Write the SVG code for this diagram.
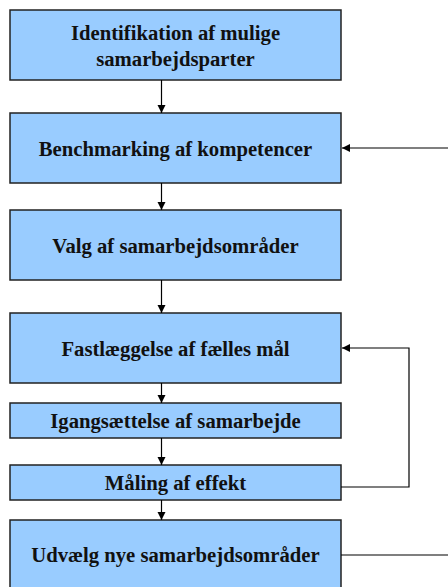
<svg xmlns="http://www.w3.org/2000/svg" width="448" height="587" viewBox="0 0 448 587">
<defs>
<marker id="ah" markerWidth="10" markerHeight="10" refX="9" refY="5" orient="auto" markerUnits="userSpaceOnUse">
<path d="M1,1 L9,5 L1,9 Z" fill="#000"/>
</marker>
<style>
.box{fill:#99CCFF;stroke:#222;stroke-width:1.5}
.t{font-weight:bold;font-size:20.7px;fill:#111;text-anchor:middle}
.c{fill:none;stroke:#000;stroke-width:1.2}
</style>
</defs>
<rect width="448" height="587" fill="#fff"/>
<g font-family="'Liberation Serif', 'Times New Roman', serif">
<g id="n1"><rect class="box" x="10" y="10" width="331" height="70"/><text class="t" x="175.5" y="39.5">Identifikation af mulige</text><text class="t" x="175.5" y="65.5">samarbejdsparter</text></g>
<g id="n2"><rect class="box" x="10" y="113" width="331" height="70"/><text class="t" x="175.5" y="156">Benchmarking af kompetencer</text></g>
<g id="n3"><rect class="box" x="10" y="210" width="331" height="70"/><text class="t" x="175.5" y="253">Valg af samarbejdsområder</text></g>
<g id="n4"><rect class="box" x="10" y="313" width="331" height="70"/><text class="t" x="175.5" y="356">Fastlæggelse af fælles mål</text></g>
<g id="n5"><rect class="box" x="10" y="403" width="331" height="35"/><text class="t" x="175.5" y="428">Igangsættelse af samarbejde</text></g>
<g id="n6"><rect class="box" x="10" y="465" width="331" height="35"/><text class="t" x="175.5" y="490">Måling af effekt</text></g>
<g id="n7"><rect class="box" x="10" y="520" width="331" height="72"/><text class="t" x="175.5" y="561.5">Udvælg nye samarbejdsområder</text></g>
</g>
<g id="connectors">
<line class="c" x1="161.5" y1="80" x2="161.5" y2="113" marker-end="url(#ah)"/>
<line class="c" x1="161.5" y1="183" x2="161.5" y2="210" marker-end="url(#ah)"/>
<line class="c" x1="161.5" y1="280" x2="161.5" y2="313" marker-end="url(#ah)"/>
<line class="c" x1="161.5" y1="383" x2="161.5" y2="403" marker-end="url(#ah)"/>
<line class="c" x1="161.5" y1="438" x2="161.5" y2="465" marker-end="url(#ah)"/>
<line class="c" x1="161.5" y1="500" x2="161.5" y2="520" marker-end="url(#ah)"/>
<polyline class="c" points="341,487 409,487 409,348 342,348" marker-end="url(#ah)"/>
<line class="c" x1="448" y1="148" x2="342" y2="148" marker-end="url(#ah)"/>
<line class="c" x1="341" y1="555" x2="448" y2="555"/>
</g>
</svg>
